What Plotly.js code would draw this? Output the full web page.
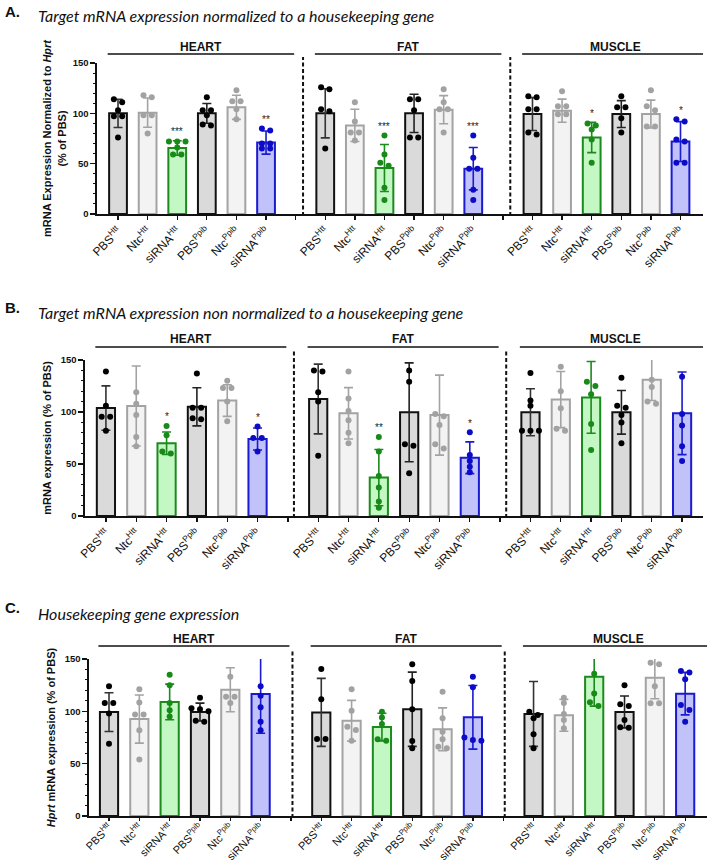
<!DOCTYPE html>
<html><head><meta charset="utf-8">
<script src="https://cdn.plot.ly/plotly-3.0.1.min.js"></script>
<style>html,body{margin:0;padding:0;background:#fff}#chart{width:711px;height:864px}</style>
</head><body><div id="chart"></div>
<script>
// ---------- DATA ----------
const tissues = ['HEART', 'FAT', 'MUSCLE'];
const conditions = ['PBS<sup>Htt</sup>', 'Ntc<sup>Htt</sup>', 'siRNA<sup>Htt</sup>', 'PBS<sup>Ppib</sup>', 'Ntc<sup>Ppib</sup>', 'siRNA<sup>Ppib</sup>'];

// Panel A: target mRNA normalized to Hprt (% of PBS); rows = tissues, columns = conditions
const A_mean = [
  [100, 100.7, 65.6, 100, 106, 71],
  [100, 88, 45.7, 100, 103.6, 45],
  [99.3, 102.6, 76, 99.3, 99.3, 72]
];
const A_sd = [
  [14, 14.5, 7.2, 9.8, 12, 11.5],
  [24.4, 16, 23.3, 19, 14, 21],
  [16.3, 11.5, 15, 13.3, 13.8, 19.8]
];
const A_pts = [
  [[114,111,103,97,97,76],[118,116,98,98,80],[72,72,72,66,59,59],[116,103,103,98,88,89],[123,112,112,104,94],[85,83,70,70,65,65]],
  [[126,124,104,102,65],[111,92,81,81,73],[78,59,51,48,26,14],[114,114,103,76,76],[124,111,104,104,81],[78,56,45,45,24,14]],
  [[117,116,104,104,81,79],[122,107,107,99,99],[90,88,84,74,51],[117,106,106,95,81],[123,107,103,87,87],[94,92,74,72,51,51]]
];
const A_stars = [['','','***','','','**'],['','','***','','','***'],['','','*','','','*']];

// Panel B: target mRNA non normalized (% of PBS)
const B_mean = [
  [103.8, 105.8, 70, 105, 111, 74],
  [112.5, 98.7, 36.9, 99.7, 97, 56],
  [99.7, 112, 114, 99.7, 131, 98.7]
];
const B_sd = [
  [21.3, 38.5, 10.8, 18.3, 15.2, 10.6],
  [33.5, 24.7, 27, 47.5, 38.5, 15.3],
  [22.6, 27, 34.5, 21, 20, 39.7]
];
const B_pts = [
  [[139,106,95.5,95.5,82],[119,108,97,76,67],[86.5,77.6,62,60],[137,104,104,94,93],[130,123,123,110,91],[86,75,75,62]],
  [[140,139,119,110,58],[139,113,101,92,80,70],[76,62,38.5,27.5,14,8],[140,129,69,67.5,41],[98,96,87.5,69,65],[80.5,58.6,53,47.4,42]],
  [[137.5,111,106,82,82,82],[143.6,120,103.5,84,82],[129,125,117,88.5,63.5],[133,106,104,97,90,70],[131,124,110,108],[134,98,87,67,53]]
];
const B_stars = [['','','*','','','*'],['','','**','','','*'],['','','','','','']];

// Panel C: Hprt housekeeping gene expression (% of PBS)
const C_mean = [
  [99.3, 92.6, 109, 99.3, 120.6, 116.5],
  [99, 91, 85, 102, 82.8, 94.3],
  [97.5, 96.2, 133, 99.4, 132, 116.9]
];
const C_sd = [
  [18.5, 23, 17, 8.5, 21, 37.5],
  [32.5, 19.5, 13.2, 35.5, 20.5, 30.4],
  [31, 15.2, 28, 15.2, 20, 20.3]
];
const C_pts = [
  [[124,108,108,98,69],[121,108.5,97,97,82,54],[135,125,108,101,95],[113,103,102,100,91,90],[133,114,114,108],[124,115,104,90,82]],
  [[140.4,111.5,73.6,73.6],[121,100.6,85.3,82.2,72],[99.7,94,87.9,72,73.3],[145,129,102,71.7,64.7],[118.8,93.3,80.5,73.3,64.7,66.2],[133,123,75,72,72.6]],
  [[99.7,96.5,93.3,78,64.7],[113,108,97.5,91.7,83.8],[136,117,108.6,105],[125,106.7,105,91.7,84.4,84.7],[146.5,145,124,107.7,107.7],[138.5,137,130.6,106,101.3,90.1]]
];
const C_stars = [['','','','','',''],['','','','','',''],['','','','','','']];

const panelTitles = [
  'Target mRNA expression normalized to a housekeeping gene',
  'Target mRNA expression non normalized to a housekeeping gene',
  'Housekeeping gene expression'
];
const panelLetters = ['A.', 'B.', 'C.'];
const yTitles = [
  'mRNA Expression Normalized to <i>Hprt</i><br>(% of PBS)',
  'mRNA expression (% of PBS)',
  '<i>Hprt</i> mRNA expression (% of PBS)'
];

// ---------- STYLE ----------
const W = 711, H = 864;
const fills = ['#dadada', '#f3f3f3', '#c3f7c3', '#dadada', '#f3f3f3', '#c2c2fa'];
const edges = ['#111111', '#a3a3a3', '#1d8a1d', '#111111', '#a3a3a3', '#1a1ad0'];
const dots  = ['#000000', '#a2a2a2', '#188a18', '#000000', '#a2a2a2', '#0c0cc8'];
const errCol = ['#333333', '#a3a3a3', '#1d8a1d', '#222222', '#a3a3a3', '#1a1ad0'];
const FONT = 'Liberation Sans, Arial, sans-serif';

// pixel geometry per panel
const geo = [
  {left: 97, right: 703, top: 63, bottom: 214, xr: [-0.71, 19.76], headLine: 54, headText: 47, sep: 0.75, letterY: 11, titleY: 15, standoff: 4, tfs: 12, tso: 0, tl: 4},
  {left: 85, right: 703, top: 360, bottom: 516, xr: [-0.69, 19.69], headLine: 347, headText: 339, sep: 0.8, letterY: 307, titleY: 312, standoff: 7, tfs: 12, tso: 0, tl: 4},
  {left: 89, right: 707, top: 659, bottom: 816, xr: [-0.66, 19.72], headLine: 646, headText: 639, sep: 0.95, letterY: 607, titleY: 613, standoff: 7, tfs: 11, tso: -4, tl: 3}
];
const panels = [
  {mean: A_mean, sd: A_sd, pts: A_pts, stars: A_stars},
  {mean: B_mean, sd: B_sd, pts: B_pts, stars: B_stars},
  {mean: C_mean, sd: C_sd, pts: C_pts, stars: C_stars}
];

const slot = (g, c) => 7 * g + c;
const py = p => 1 - p / H;

function swarm(vals) {
  const s = vals.slice().sort((a, b) => b - a);
  const rows = []; let cur = [s[0]];
  for (let i = 1; i < s.length; i++) {
    if (cur[0] - s[i] < 5) cur.push(s[i]); else { rows.push(cur); cur = [s[i]]; }
  }
  rows.push(cur);
  const out = [];
  rows.forEach(r => r.forEach((v, i) => out.push([(i - (r.length - 1) / 2) * 0.28, v])));
  return out;
}

const traces = [];
const annotations = [];
const shapes = [];
const layout = {
  width: W, height: H, margin: {l: 0, r: 0, t: 0, b: 0},
  paper_bgcolor: '#ffffff', plot_bgcolor: 'rgba(0,0,0,0)',
  showlegend: false, bargap: 0, barmode: 'overlay',
  font: {family: FONT, color: '#111'}
};

const tickVals = [], tickText = [];
for (let g = 0; g < 3; g++) {
  for (let c = 0; c < 6; c++) { tickVals.push(slot(g, c)); tickText.push(conditions[c]); }
  if (g < 2) { tickVals.push(slot(g, 6)); tickText.push(''); }
}

panels.forEach((P, p) => {
  const G = geo[p];
  const xa = p === 0 ? 'x' : 'x' + (p + 1);
  const ya = p === 0 ? 'y' : 'y' + (p + 1);
  const xk = p === 0 ? 'xaxis' : 'xaxis' + (p + 1);
  const yk = p === 0 ? 'yaxis' : 'yaxis' + (p + 1);

  layout[xk] = {
    domain: [G.left / W, G.right / W], anchor: ya, range: G.xr,
    tickmode: 'array', tickvals: tickVals, ticktext: tickText,
    tickangle: -45, ticks: 'outside', ticklen: G.tl, tickwidth: 1.3, tickcolor: '#111',
    ticklabelstandoff: G.tso,
    showline: true, linewidth: 1.6, linecolor: '#111', showgrid: false, zeroline: false,
    tickfont: {family: FONT, size: G.tfs, color: '#111'}, fixedrange: true
  };
  layout[yk] = {
    domain: [py(G.bottom), py(G.top)], anchor: xa, range: [0, 150],
    tickmode: 'array', tickvals: [0, 50, 100, 150], ticks: 'outside', ticklen: 5, tickwidth: 1.3, tickcolor: '#111',
    minor: {dtick: 10, tick0: 0, ticks: 'outside', ticklen: 2.5, tickwidth: 1, tickcolor: '#111', showgrid: false},
    showline: true, linewidth: 1.6, linecolor: '#111', showgrid: false, zeroline: false,
    tickfont: {family: FONT, size: 9.5, color: '#111', weight: 'bold'},
    title: {text: yTitles[p], font: {family: FONT, size: 11, color: '#111', weight: 'bold'}, standoff: G.standoff},
    fixedrange: true
  };

  for (let c = 0; c < 6; c++) {
    const xs = [0, 1, 2].map(g => slot(g, c));
    traces.push({
      type: 'bar', xaxis: xa, yaxis: ya, x: xs, y: P.mean.map(r => r[c]), width: 0.6,
      marker: {color: fills[c], line: {color: edges[c], width: 2}},
      error_y: {type: 'data', array: P.sd.map(r => r[c]), visible: true, color: errCol[c], thickness: 1.6, width: 4.5},
      hoverinfo: 'y'
    });
    const px = [], pv = [];
    for (let g = 0; g < 3; g++) {
      swarm(P.pts[g][c]).forEach(([dx, v]) => { px.push(slot(g, c) + dx); pv.push(v); });
    }
    traces.push({
      type: 'scatter', mode: 'markers', xaxis: xa, yaxis: ya, x: px, y: pv,
      marker: {color: dots[c], size: 6}, hoverinfo: 'y'
    });
    for (let g = 0; g < 3; g++) {
      const s = P.stars[g][c];
      if (!s) continue;
      const top = Math.max(Math.max(...P.pts[g][c]), P.mean[g][c] + P.sd[g][c]);
      annotations.push({
        xref: xa, yref: ya, x: slot(g, c), y: top + 1.5, yanchor: 'bottom', showarrow: false,
        text: s, font: {family: FONT, size: 10, color: '#222222'}
      });
    }
  }

  // group headers and separators
  for (let g = 0; g < 3; g++) {
    const x0 = slot(g, 0) - 0.35, x1 = slot(g, 5) + 0.95;
    shapes.push({type: 'line', xref: xa, yref: 'paper', x0: x0, x1: x1, y0: py(G.headLine), y1: py(G.headLine),
      line: {color: '#111', width: 1.6}});
    annotations.push({xref: xa, yref: 'paper', x: (x0 + x1) / 2, y: py(G.headText), yanchor: 'middle',
      showarrow: false, text: '<b>' + tissues[g] + '</b>', font: {family: FONT, size: 12, color: '#111'}});
    if (g > 0) {
      const xs = slot(g, 0) - G.sep;
      shapes.push({type: 'line', xref: xa, yref: 'paper', x0: xs, x1: xs, y0: py(G.bottom + 2), y1: py(G.headLine + 3),
        line: {color: '#111', width: 2, dash: '4px,2.5px'}});
    }
  }

  annotations.push({xref: 'paper', yref: 'paper', x: 3 / W, y: py(G.letterY), xanchor: 'left', yanchor: 'middle',
    showarrow: false, text: '<b>' + panelLetters[p] + '</b>', font: {family: FONT, size: 15, color: '#111'}});
  annotations.push({xref: 'paper', yref: 'paper', x: 36 / W, y: py(G.titleY), xanchor: 'left', yanchor: 'middle',
    showarrow: false, text: '<i>' + panelTitles[p] + '</i>', font: {family: 'Lato, Open Sans, sans-serif', size: 16, color: '#111'}});
});

layout.annotations = annotations;
layout.shapes = shapes;

Plotly.newPlot('chart', traces, layout, {staticPlot: true, displayModeBar: false});
</script>
</body></html>
